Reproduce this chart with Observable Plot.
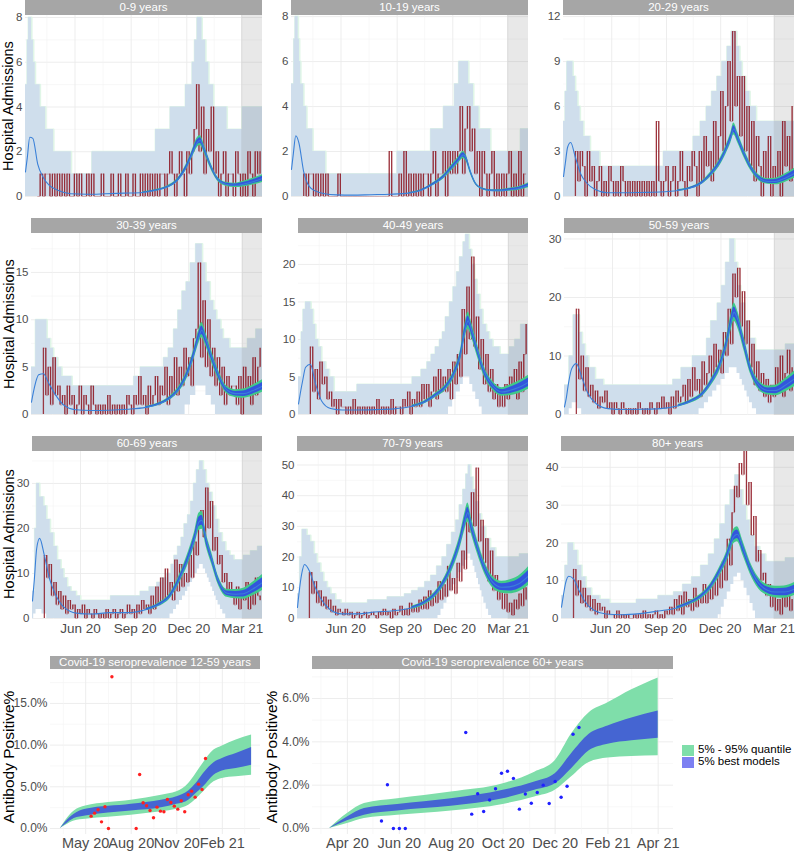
<!DOCTYPE html>
<html><head><meta charset="utf-8">
<script src="https://cdn.jsdelivr.net/npm/d3@7"></script>
<script src="https://cdn.jsdelivr.net/npm/@observablehq/plot@0.6"></script>
<style>
body{margin:0;background:#fff;overflow:hidden;font-family:"Liberation Sans",Arial,sans-serif}
#root{position:relative;width:796px;height:852px}
.strip{position:absolute;background:#a6a6a6;color:#fff;font-size:11.5px;text-align:center;white-space:nowrap;overflow:hidden}
.ttl{position:absolute;white-space:nowrap;color:#000;transform:translate(-50%,-50%) rotate(-90deg)}
.pl{position:absolute}
.leg{position:absolute;font-size:11.5px;color:#000;white-space:nowrap}
</style></head>
<body><div id="root"></div>
<script>
// ---------- data ----------
const KNOTS = ["2020-03-12","2020-03-15","2020-03-19","2020-03-24","2020-04-01","2020-04-10","2020-04-20","2020-05-05","2020-05-25","2020-06-20","2020-07-20","2020-08-20","2020-09-20","2020-10-10","2020-10-30","2020-11-15","2020-11-30","2020-12-10","2020-12-18","2020-12-23","2020-12-30","2021-01-08","2021-01-20","2021-02-03","2021-02-18","2021-03-03","2021-03-18","2021-04-04"];
const BAND_FROM = 12;
const greenRel = [0.15,0.13,0.12,0.11,0.1,0.09,0.09,0.09,0.09,0.1,0.12,0.16,0.19,0.22,0.23,0.22];
const blueRel  = [0.08,0.07,0.065,0.06,0.055,0.05,0.05,0.05,0.05,0.055,0.07,0.09,0.11,0.13,0.14,0.13];
const timeDomain = ["2020-03-12","2021-04-04"];
const forecastPeriod = ["2021-03-01","2021-04-04"];
const obsStart = "2020-04-01", obsStepDays = 4;
const xTicksMajor = ["2020-06-01","2020-09-01","2020-12-01","2021-03-01"];
const xTicksMinor = ["2020-04-16","2020-07-17","2020-10-16","2021-01-15"];

const med_0_9 = [1.1,1.75,2.65,2.6,1.45,0.85,0.5,0.27,0.12,0.1,0.12,0.15,0.18,0.27,0.42,0.7,1.3,1.9,2.4,2.5,2.1,1.45,0.8,0.55,0.5,0.55,0.65,0.8];
const med_10_19 = [1.2,1.9,2.7,2.4,1.1,0.45,0.25,0.12,0.07,0.06,0.08,0.1,0.15,0.27,0.55,0.85,1.3,1.6,1.85,1.7,1.1,0.55,0.33,0.26,0.26,0.3,0.35,0.5];
const med_20_29 = [1.33,2.2,3.3,3.6,2.6,1.5,0.9,0.45,0.25,0.25,0.27,0.3,0.4,0.55,0.9,1.5,2.3,3.1,3.9,4.5,3.9,3.0,2.0,1.25,1.0,1.0,1.2,1.55];
const med_30_39 = [1.3,2.3,3.4,4.2,4.3,3.3,2.2,1.0,0.5,0.42,0.45,0.55,0.75,1.05,1.7,2.7,4.5,6.4,8.2,8.9,7.9,6.2,4.2,2.6,2.2,2.2,2.5,3.0];
const med_40_49 = [1.4,2.8,4.5,6.3,6.7,4.0,1.8,0.8,0.6,0.6,0.65,0.75,1.1,1.6,2.6,3.6,5.5,7.8,11.2,12.5,11,8.5,5.6,3.8,3.0,3.2,3.6,4.3];
const med_50_59 = [1.3,2.8,5.5,7.8,8.7,6.4,3.7,1.8,1.0,0.85,0.9,1.0,1.5,2.2,3.4,5.6,8.6,12,15.8,17.5,16,12.5,7.8,5,4.1,4.1,4.9,6.1];
const med_60_69 = [3.9,8.5,15.5,17.8,14,8.7,5.3,2.4,1.2,1.0,1.3,1.3,2.0,3.0,5.0,8.8,13.5,17.5,21.5,21.8,17.5,13.5,8.3,5.6,5.4,5.5,6.5,8.0];
const med_70_79 = [3.6,9,14.5,17.6,15.5,10.5,6.5,3.0,1.5,1.5,2.1,2.5,3.5,5.0,8.0,12.5,19,25,31.5,34.5,29.5,23.5,16.7,11.8,10.2,10.3,11.2,13.8];
const med_80 = [3,6,9.5,11.2,10.5,7.5,4.5,2.2,1.2,1.0,1.3,2.0,2.8,4.0,5.8,8.3,12.3,15.5,19,21.5,22.3,18.7,13.5,9.4,7.5,7.0,7.0,7.8];

const up_0_9 = [["2020-03-12",5],["2020-03-15",7],["2020-03-17",8],["2020-03-22",7],["2020-03-25",6],["2020-03-28",5],["2020-04-05",4],["2020-04-14",3],["2020-04-27",2],["2020-05-26",1],["2020-06-29",2],["2020-10-11",3],["2020-11-04",4],["2020-11-29",5],["2020-12-10",6],["2020-12-14",7],["2020-12-18",8],["2020-12-26",7],["2021-01-01",6],["2021-01-06",5],["2021-01-14",4],["2021-02-05",3],["2021-03-02",4]];
const lo_0_9 = [["2020-03-12",0]];
const up_10_19 = [["2020-03-12",5],["2020-03-16",7],["2020-03-18",8],["2020-03-23",7],["2020-03-25",6],["2020-03-27",5],["2020-04-01",4],["2020-04-06",3],["2020-04-16",2],["2020-05-07",1],["2020-09-01",2],["2020-10-26",3],["2020-11-16",4],["2020-12-04",5],["2020-12-11",6],["2020-12-27",5],["2021-01-04",4],["2021-01-13",3],["2021-02-01",2],["2021-03-22",3]];
const lo_10_19 = [["2020-03-12",0]];
const up_20_29 = [["2020-03-12",5],["2020-03-15",7],["2020-03-18",9],["2020-03-28",8],["2020-04-01",7],["2020-04-05",6],["2020-04-09",5],["2020-04-15",4],["2020-04-26",3],["2020-05-12",2],["2020-08-27",3],["2020-10-16",4],["2020-10-28",5],["2020-11-07",6],["2020-11-16",7],["2020-11-25",8],["2020-12-03",9],["2020-12-12",10],["2020-12-19",11],["2020-12-28",10],["2021-01-02",9],["2021-01-06",8],["2021-01-12",7],["2021-01-19",6],["2021-01-30",5]];
const lo_20_29 = [["2020-03-12",0]];
const up_30_39 = [["2020-03-12",5],["2020-03-19",10],["2020-04-07",8],["2020-04-13",7],["2020-04-18",6],["2020-04-25",5],["2020-05-02",4],["2020-05-19",3],["2020-08-31",4],["2020-09-11",5],["2020-10-20",6],["2020-10-28",7],["2020-11-06",9],["2020-11-13",11],["2020-11-20",13],["2020-11-27",14],["2020-12-04",16],["2020-12-13",18],["2020-12-24",16],["2020-12-30",14],["2021-01-06",12],["2021-01-12",11],["2021-01-17",10],["2021-01-24",9],["2021-01-28",8],["2021-02-08",7],["2021-03-10",8],["2021-03-24",9]];
const lo_30_39 = [["2020-03-12",0],["2020-11-25",1],["2020-12-04",2],["2020-12-13",3],["2020-12-30",2],["2021-01-08",1],["2021-01-15",0]];
const up_40_49 = [["2020-03-12",5],["2020-03-17",11],["2020-03-20",14],["2020-03-24",15],["2020-04-02",14],["2020-04-06",12],["2020-04-10",10],["2020-04-15",9],["2020-04-20",7],["2020-04-27",6],["2020-05-03",5],["2020-05-11",3],["2020-06-19",4],["2020-09-20",5],["2020-10-05",6],["2020-10-15",7],["2020-10-22",8],["2020-10-29",9],["2020-11-05",10],["2020-11-10",11],["2020-11-15",13],["2020-11-22",15],["2020-11-28",17],["2020-12-04",19],["2020-12-09",21],["2020-12-15",23],["2020-12-19",24],["2020-12-25",22],["2020-12-29",20],["2021-01-03",18],["2021-01-07",16],["2021-01-12",14],["2021-01-17",12],["2021-01-23",11],["2021-01-28",10],["2021-02-03",9],["2021-02-15",8],["2021-03-03",9],["2021-03-12",10],["2021-03-22",12]];
const lo_40_49 = [["2020-03-12",0],["2020-11-20",1],["2020-11-27",2],["2020-12-03",3],["2020-12-10",4],["2020-12-15",5],["2020-12-26",4],["2020-12-31",3],["2021-01-05",2],["2021-01-11",1],["2021-01-16",0]];
const up_50_59 = [["2020-03-12",5],["2020-03-20",10],["2020-03-27",17],["2020-04-06",14],["2020-04-11",12],["2020-04-16",10],["2020-04-22",8],["2020-05-03",6],["2020-05-17",5],["2020-09-11",6],["2020-09-25",8],["2020-10-14",10],["2020-11-07",13],["2020-11-14",16],["2020-11-25",19],["2020-12-02",22],["2020-12-09",26],["2020-12-16",30],["2020-12-24",26],["2020-12-29",22],["2021-01-03",19],["2021-01-10",16],["2021-01-18",13],["2021-01-28",11],["2021-03-20",12]];
const lo_50_59 = [["2020-03-12",0],["2020-03-20",1],["2020-03-25",2],["2020-04-03",1],["2020-04-10",0],["2020-10-25",1],["2020-11-03",2],["2020-11-10",3],["2020-11-17",4],["2020-11-24",5],["2020-12-01",6],["2020-12-08",7],["2020-12-15",8],["2020-12-28",7],["2021-01-02",6],["2021-01-06",5],["2021-01-10",4],["2021-01-14",3],["2021-01-18",2],["2021-01-23",1],["2021-01-30",0]];
const up_60_69 = [["2020-03-12",6],["2020-03-16",20],["2020-03-19",30],["2020-03-24",27],["2020-03-31",25],["2020-04-05",22],["2020-04-11",19],["2020-04-17",16],["2020-04-23",13],["2020-04-29",11],["2020-05-04",9],["2020-05-10",7],["2020-05-16",6],["2020-05-25",5],["2020-06-01",4],["2020-07-22",5],["2020-09-10",6],["2020-09-25",7],["2020-10-08",8],["2020-10-16",9],["2020-10-25",10],["2020-11-01",12],["2020-11-06",14],["2020-11-12",16],["2020-11-18",18],["2020-11-23",21],["2020-11-29",23],["2020-12-04",26],["2020-12-09",30],["2020-12-14",33],["2020-12-19",35],["2020-12-25",33],["2020-12-30",30],["2021-01-04",28],["2021-01-09",25],["2021-01-15",22],["2021-01-20",19],["2021-01-26",17],["2021-02-01",15],["2021-02-08",14],["2021-02-15",13],["2021-03-03",14],["2021-03-15",15],["2021-03-27",16]];
const lo_60_69 = [["2020-03-12",0],["2020-03-14",1],["2020-03-18",2],["2020-03-28",1],["2020-04-05",0],["2020-10-30",1],["2020-11-05",2],["2020-11-10",3],["2020-11-15",4],["2020-11-20",5],["2020-11-25",6],["2020-11-29",7],["2020-12-03",8],["2020-12-07",9],["2020-12-11",10],["2020-12-15",11],["2020-12-19",12],["2020-12-25",11],["2020-12-29",10],["2021-01-01",9],["2021-01-04",8],["2021-01-07",7],["2021-01-10",6],["2021-01-13",5],["2021-01-16",4],["2021-01-19",3],["2021-01-23",2],["2021-01-27",1],["2021-02-01",0]];
const up_70_79 = [["2020-03-12",8],["2020-03-16",20],["2020-03-20",29],["2020-03-28",27],["2020-04-03",25],["2020-04-09",21],["2020-04-14",18],["2020-04-20",15],["2020-04-25",12],["2020-05-01",10],["2020-05-07",8],["2020-05-15",6],["2020-05-24",5],["2020-07-08",6],["2020-08-10",7],["2020-09-08",8],["2020-09-20",9],["2020-10-01",10],["2020-10-12",12],["2020-10-22",14],["2020-11-01",17],["2020-11-10",20],["2020-11-18",24],["2020-11-26",28],["2020-12-03",32],["2020-12-09",37],["2020-12-15",42],["2020-12-20",47],["2020-12-24",50],["2020-12-28",46],["2021-01-01",42],["2021-01-05",38],["2021-01-10",34],["2021-01-15",30],["2021-01-22",26],["2021-01-30",23],["2021-02-08",20],["2021-03-20",21]];
const lo_70_79 = [["2020-03-12",0],["2020-11-03",1],["2020-11-08",3],["2020-11-13",5],["2020-11-18",7],["2020-11-23",9],["2020-11-28",11],["2020-12-03",13],["2020-12-08",15],["2020-12-13",17],["2020-12-18",19],["2020-12-23",21],["2020-12-28",19],["2021-01-01",17],["2021-01-04",15],["2021-01-07",13],["2021-01-10",11],["2021-01-13",9],["2021-01-16",7],["2021-01-19",5],["2021-01-23",3],["2021-01-27",1],["2021-02-01",0]];
const up_80 = [["2020-03-12",6],["2020-03-18",14],["2020-03-23",20],["2020-04-01",18],["2020-04-08",14],["2020-04-15",11],["2020-04-22",8],["2020-05-01",6],["2020-05-15",5],["2020-06-01",4],["2020-07-15",5],["2020-08-20",6],["2020-09-15",7],["2020-09-30",9],["2020-10-15",11],["2020-10-30",14],["2020-11-12",17],["2020-11-22",21],["2020-12-01",25],["2020-12-10",30],["2020-12-18",34],["2020-12-26",38],["2021-01-02",34],["2021-01-08",30],["2021-01-14",26],["2021-01-20",22],["2021-01-28",19],["2021-02-05",17],["2021-02-15",15],["2021-03-20",16]];
const lo_80 = [["2020-03-12",0],["2020-11-28",1],["2020-12-03",3],["2020-12-08",5],["2020-12-13",7],["2020-12-19",9],["2020-12-24",11],["2020-12-30",12],["2021-01-05",10],["2021-01-10",8],["2021-01-15",6],["2021-01-20",4],["2021-01-25",2],["2021-01-29",0]];

const obs_0_9 = [0,1,0,1,1,0,1,0, 1,0,1,0,1,0,0,1, 0,1,0,0,1,0,1,0, 0,0,1,0,0,0,1,0, 0,1,0,0,1,0,0,1, 0,0,1,0,1,0,1,0, 1,0,1,1,0,1,2,1, 0,1,2,1,0,2,1,2, 3,5,2,4,1,3,2,4, 1,2,0,1,2,0,1,1, 0,2,1,0,1,0,2,1, 0,2,1,2];
const obs_10_19 = [1,0,1,1,0,1,0,1, 0,1,0,0,0,0,1,0, 0,0,0,0,0,0,0,0, 0,0,0,0,0,0,0,0, 0,0,0,2,0,0,0,1, 0,2,0,1,0,1,0,1, 0,1,1,0,1,2,0,1, 1,2,0,2,1,2,1,2, 4,1,3,4,2,3,1,2, 0,2,1,0,1,2,0,1, 0,1,0,1,2,0,1,0, 2,0,1,1];
const obs_20_29 = [3,1,3,2,0,3,1,2, 0,1,2,0,1,0,2,1, 0,1,0,2,1,0,1,0, 1,0,1,0,1,0,1,0, 1,0,5,1,0,1,2,0, 1,2,0,1,3,1,0,2, 1,3,2,0,3,1,4,2, 3,1,5,2,4,7,3,6, 9,5,11,6,8,4,8,3, 6,2,5,1,4,2,0,3, 1,4,0,2,1,3,0,5, 2,4,1,6];
const obs_30_39 = [7,2,5,1,6,2,3,1, 2,0,3,1,2,0,1,3, 0,2,1,0,3,1,0,1, 0,1,0,2,0,1,0,1, 0,1,0,2,1,0,2,1, 4,1,2,0,3,1,2,4, 1,3,2,5,1,4,2,6, 2,5,3,7,4,6,3,8, 9,16,6,12,5,10,4,7, 3,6,2,5,1,4,2,3, 3,1,4,0,5,2,4,1, 6,2,5,7];
const obs_40_49 = [9,3,6,2,7,4,5,2, 3,1,2,0,2,1,1,0, 1,0,2,0,1,0,1,0, 1,0,1,0,2,0,1,0, 1,0,2,0,1,1,0,2, 1,3,0,2,1,3,1,4, 2,4,1,3,5,2,6,3, 5,3,6,2,7,4,8,5, 14,8,17,10,21,9,13,6, 10,4,8,3,6,2,4,1, 3,1,4,2,5,3,6,2, 7,3,8,12];
const obs_50_59 = [18,6,10,4,8,3,5,2, 4,1,3,2,4,1,2,0, 2,1,0,2,1,0,1,0, 1,0,2,1,0,1,0,2, 1,0,2,1,3,1,2,0, 3,1,4,2,3,5,2,6, 3,8,4,6,3,9,5,7, 10,6,12,8,11,7,14,10, 18,12,24,20,25,15,21,12, 16,8,12,5,9,4,7,3, 6,2,5,3,8,4,10,3, 7,11,4,8];
const obs_60_69 = [14,9,12,5,8,3,6,2, 5,1,4,2,3,0,2,1, 3,0,2,1,0,2,1,0, 1,0,2,0,1,2,0,1, 2,0,1,3,1,2,0,3, 1,4,2,3,1,5,2,7, 3,9,4,11,5,8,4,13, 6,12,7,10,8,14,9,17, 14,21,24,18,29,20,26,15, 18,12,14,8,10,6,8,5, 3,7,2,6,4,8,2,7, 3,9,5,4];
const obs_70_79 = [15,8,12,5,9,4,7,3, 6,2,4,1,3,2,1,3, 1,2,0,1,2,0,1,2, 0,1,2,1,0,2,1,3, 1,2,0,3,1,2,4,1, 3,1,5,2,4,2,6,3, 7,3,9,4,8,5,12,6, 11,7,17,9,13,8,18,12, 22,16,33,28,41,30,49,25, 32,18,26,12,22,9,14,6, 10,3,8,2,5,1,6,3, 8,4,10,6];
const obs_80 = [13,6,10,4,8,3,6,2, 5,1,4,2,3,0,2,1, 1,0,2,0,1,0,1,0, 0,1,0,1,0,2,0,1, 0,1,2,0,1,0,2,1, 3,1,5,2,6,1,7,3, 5,2,8,3,6,4,9,4, 8,5,10,6,12,8,15,10, 21,14,28,35,32,41,38,45, 30,36,22,27,15,18,10,12, 6,9,3,7,2,5,1,6, 3,8,2,5];

const yTicks_0_9 = [0,2,4,6,8], yTicks_10_19 = [0,2,4,6,8], yTicks_20_29 = [0,3,6,9,12];
const yTicks_30_39 = [0,5,10,15], yTicks_40_49 = [0,5,10,15,20], yTicks_50_59 = [0,10,20,30];
const yTicks_60_69 = [0,10,20,30], yTicks_70_79 = [0,10,20,30,40,50], yTicks_80 = [0,10,20,30,40];

// seroprevalence
const sero1Dates = ["2020-05-12","2020-05-19","2020-05-26","2020-06-02","2020-06-09","2020-06-16","2020-06-23","2020-08-11","2020-08-18","2020-08-25","2020-09-01","2020-09-08","2020-09-15","2020-09-22","2020-09-29","2020-10-06","2020-10-13","2020-10-20","2020-10-27","2020-11-03","2020-11-10","2020-11-17","2020-11-24","2020-12-01","2020-12-08","2020-12-15","2020-12-22","2020-12-29"];
const sero1Values = [1.48,1.84,2.24,0.80,2.6,0,18.2,0,6.48,3.08,2.72,2.16,1.28,2.56,2.08,2.0,3.48,3.12,2.68,2.32,3.32,2.0,4.04,4.48,3.76,5.32,4.68,8.4];
const sero2Dates = ["2020-05-11","2020-05-18","2020-05-25","2020-06-01","2020-06-08","2020-08-18","2020-08-25","2020-09-01","2020-09-08","2020-09-15","2020-09-22","2020-09-29","2020-10-06","2020-10-13","2020-10-20","2020-10-27","2020-11-03","2020-11-10","2020-11-17","2020-11-24","2020-12-01","2020-12-08","2020-12-15","2020-12-22","2020-12-29"];
const sero2Values = [0.34,2.02,0,0,0,4.43,0.66,1.60,0.78,1.31,1.83,2.55,2.64,2.31,0.89,1.59,1.16,1.66,2.0,1.15,2.17,1.44,1.95,4.35,4.66];

const sero1BandDates = ["2020-03-11","2020-03-22","2020-04-08","2020-05-01","2020-08-01","2020-10-01","2020-11-01","2020-11-25","2020-12-10","2020-12-25","2021-01-15","2021-02-01","2021-03-01","2021-04-01"];
const sero1GreenLo = [0,0.4,0.9,1.1,1.6,2.0,2.3,2.8,3.5,4.4,5.6,6.0,6.2,6.4];
const sero1BlueLo  = [0,0.5,1.2,1.5,2.1,2.5,2.9,3.4,4.2,5.0,6.4,6.9,7.2,7.6];
const sero1BlueHi  = [0,0.8,1.7,2.3,2.9,3.4,3.8,4.5,5.4,6.6,7.9,8.4,9.0,9.7];
const sero1GreenHi = [0,1.0,2.1,2.7,3.4,4.0,4.4,5.4,6.6,7.9,9.4,9.9,10.6,11.2];

const sero2BandDates = ["2020-03-11","2020-04-01","2020-04-21","2020-05-30","2020-08-01","2020-10-01","2020-11-07","2020-12-01","2020-12-20","2021-01-10","2021-02-01","2021-03-01","2021-04-01"];
const sero2GreenLo = [0,0.23,0.46,0.61,0.81,1.11,1.45,1.76,2.37,3.05,3.25,3.32,3.36];
const sero2BlueLo  = [0,0.35,0.61,0.81,1.02,1.37,1.76,2.06,2.75,3.59,3.89,4.05,4.17];
const sero2BlueHi  = [0,0.53,0.92,1.11,1.37,1.76,2.14,2.52,3.44,4.35,4.73,5.1,5.42];
const sero2GreenHi = [0,0.69,1.15,1.37,1.68,2.06,2.6,3.13,4.35,5.34,5.8,6.4,6.95];

const seroDomain = ["2020-02-20","2021-04-19"];
const sero1XTicks = ["2020-05-01","2020-08-01","2020-11-01","2021-02-01"];
const sero1XMinor = ["2020-03-17","2020-06-16","2020-09-16","2020-12-17","2021-03-18"];
const sero2XTicks = ["2020-04-01","2020-06-01","2020-08-01","2020-10-01","2020-12-01","2021-02-01","2021-04-01"];
const sero2XMinor = ["2020-03-01","2020-05-01","2020-07-01","2020-09-01","2020-11-01","2021-01-01","2021-03-01"];
const sero1YTicks = [0,5,10,15], sero2YTicks = [0,2,4,6];
const legendLabels = ["5% - 95% quantile","5% best models"];

// ---------- layout / drawing ----------
const root = document.getElementById("root");
const D = s => new Date(s + "T00:00:00Z");
const FONT = "Liberation Sans, Arial, sans-serif";
const C = {lightBand:"#cfdeec", fringe:"#e0f6e7", obs:"#8b0f1a", green:"#3fc98a", blue:"#3355dd", line:"#3a80d8", grid:"#ebebeb", minor:"#f4f4f4"};

function stepRows(up, lo, end) {
  const dates = Array.from(new Set([...up.map(d => d[0]), ...lo.map(d => d[0])])).sort();
  const at = (arr, dt) => { let v = arr[0][1]; for (const [d, x] of arr) if (d <= dt) v = x; return v; };
  const rows = dates.map(dt => ({date: D(dt), hi: at(up, dt), lo: at(lo, dt)}));
  const last = rows[rows.length - 1];
  rows.push({date: end, hi: last.hi, lo: last.lo});
  return rows;
}
function minorOf(t, hi) {
  const out = [];
  const step = t[1] - t[0];
  for (let i = 0; i < t.length; i++) { const m = t[i] + step / 2; if (m < hi) out.push(m); }
  return out;
}
function addDiv(cls, css, text) {
  const d = document.createElement("div");
  d.className = cls; Object.assign(d.style, css); if (text != null) d.textContent = text;
  root.appendChild(d); return d;
}

const panels = [
  {name:"0-9 years",   med:med_0_9,   up:up_0_9,   lo:lo_0_9,   obs:obs_0_9,   ticks:yTicks_0_9,   L:25,  R:262, T:15,  B:197, ydom:[-0.045,8.09], bottom:false},
  {name:"10-19 years", med:med_10_19, up:up_10_19, lo:lo_10_19, obs:obs_10_19, ticks:yTicks_10_19, L:291, R:528, T:15,  B:197, ydom:[-0.045,8.05], bottom:false},
  {name:"20-29 years", med:med_20_29, up:up_20_29, lo:lo_20_29, obs:obs_20_29, ticks:yTicks_20_29, L:563, R:794, T:15,  B:197, ydom:[-0.067,12.07], bottom:false},
  {name:"30-39 years", med:med_30_39, up:up_30_39, lo:lo_30_39, obs:obs_30_39, ticks:yTicks_30_39, L:31,  R:262, T:233, B:415, ydom:[-0.105,19.11], bottom:false},
  {name:"40-49 years", med:med_40_49, up:up_40_49, lo:lo_40_49, obs:obs_40_49, ticks:yTicks_40_49, L:298, R:528, T:233, B:415, ydom:[-0.13,24.13], bottom:false},
  {name:"50-59 years", med:med_50_59, up:up_50_59, lo:lo_50_59, obs:obs_50_59, ticks:yTicks_50_59, L:564, R:794, T:233, B:415, ydom:[-0.17,30.94], bottom:false},
  {name:"60-69 years", med:med_60_69, up:up_60_69, lo:lo_60_69, obs:obs_60_69, ticks:yTicks_60_69, L:32,  R:262, T:451, B:619, ydom:[-0.22,37.1], bottom:true},
  {name:"70-79 years", med:med_70_79, up:up_70_79, lo:lo_70_79, obs:obs_70_79, ticks:yTicks_70_79, L:297, R:528, T:451, B:619, ydom:[-0.33,54.4], bottom:true},
  {name:"80+ years",   med:med_80,    up:up_80,    lo:lo_80,    obs:obs_80,    ticks:yTicks_80,    L:561, R:794, T:451, B:619, ydom:[-0.26,44.2], bottom:true}
];

const xDom = timeDomain.map(D);
for (const p of panels) {
  const ML = 30, MR = 1, MB = p.bottom ? 26 : 0;
  const med = KNOTS.map((d, i) => ({date: D(d), v: p.med[i]}));
  const band = KNOTS.slice(BAND_FROM).map((d, i) => {
    const v = p.med[BAND_FROM + i];
    return {date: D(d), gl: v * (1 - greenRel[i]), gh: v * (1 + greenRel[i]), bl: v * (1 - blueRel[i]), bh: v * (1 + blueRel[i])};
  });
  const obs = p.obs.map((v, i) => ({date: d3.utcDay.offset(D(obsStart), obsStepDays * i), v, prev: i ? p.obs[i - 1] : 0}));
  const steps = stepRows(p.up, p.lo, xDom[1]);
  const minorY = minorOf(p.ticks, p.ydom[1]);
  const marks = [
    Plot.ruleY(minorY, {stroke: C.minor, strokeWidth: 0.6}),
    Plot.ruleY(p.ticks, {stroke: C.grid, strokeWidth: 0.9}),
    Plot.ruleX(xTicksMinor.map(D), {stroke: C.minor, strokeWidth: 0.6}),
    Plot.ruleX(xTicksMajor.map(D), {stroke: C.grid, strokeWidth: 0.9}),
    Plot.lineY(steps, {x: "date", y: "hi", curve: "step-after", stroke: C.fringe, strokeWidth: 2, clip: true}),
    Plot.areaY(steps, {x: "date", y1: "lo", y2: "hi", curve: "step-after", fill: C.lightBand, clip: true}),
    Plot.rect([{a: D(forecastPeriod[0]), b: D(forecastPeriod[1])}], {x1: "a", x2: "b", fill: "#8c8c8c", fillOpacity: 0.2}),
    Plot.lineY(obs, {x: "date", y: "v", curve: "step-after", stroke: C.obs, strokeOpacity: 0.28, strokeWidth: 1, clip: true}),
    Plot.ruleX(obs, {x: "date", y1: "prev", y2: "v", stroke: C.obs, strokeOpacity: 0.8, strokeWidth: 1.3, clip: true}),
    Plot.areaY(band, {x: "date", y1: "gl", y2: "gh", curve: "monotone-x", fill: C.green, clip: true}),
    Plot.areaY(band, {x: "date", y1: "bl", y2: "bh", curve: "monotone-x", fill: C.blue, clip: true}),
    Plot.lineY(med, {x: "date", y: "v", curve: "monotone-x", stroke: C.line, strokeWidth: 1.1, clip: true}),
    Plot.axisY({ticks: p.ticks, tickSize: 0, tickPadding: 3, fontSize: 11.5, label: null})
  ];
  if (p.bottom) marks.push(Plot.axisX({ticks: xTicksMajor.map(D), tickSize: 0, tickPadding: 4, fontSize: 13.5, label: null, tickFormat: d3.utcFormat("%b %y")}));
  const chart = Plot.plot({
    width: p.R - p.L + ML + MR, height: p.B - p.T + MB,
    marginLeft: ML, marginRight: MR, marginTop: 0, marginBottom: MB,
    x: {type: "utc", domain: xDom, axis: null},
    y: {domain: p.ydom, axis: null},
    style: {fontFamily: FONT, color: "#4d4d4d", background: "transparent", overflow: "visible"},
    marks
  });
  const holder = addDiv("pl", {left: (p.L - ML) + "px", top: p.T + "px"});
  holder.appendChild(chart);
  addDiv("strip", {left: p.L + "px", top: (p.T - 15) + "px", width: (p.R - p.L) + "px", height: "15px", lineHeight: "15px"}, p.name);
}
for (const [cy, cx] of [[106, 8], [324, 9], [534, 9]]) {
  addDiv("ttl", {left: cx + "px", top: cy + "px", fontSize: "14.5px"}, "Hospital Admissions");
}

// sero panels
const sDom = seroDomain.map(D);
const pct = d => d.toFixed(1) + "%";
function seroPanel(o) {
  const ML = 44, MR = 1, MB = 20;
  const band = o.bandDates.map((d, i) => ({date: D(d), gl: o.gl[i], bl: o.bl[i], bh: o.bh[i], gh: o.gh[i]}));
  const pts = o.dates.map((d, i) => ({date: D(d), v: o.values[i]}));
  const minorY = minorOf(o.yTicks, o.ydom[1]);
  const chart = Plot.plot({
    width: o.R - o.L + ML + MR, height: o.B - o.T + MB,
    marginLeft: ML, marginRight: MR, marginTop: 0, marginBottom: MB,
    x: {type: "utc", domain: sDom, axis: null},
    y: {domain: o.ydom, axis: null},
    style: {fontFamily: FONT, color: "#4d4d4d", background: "transparent", overflow: "visible"},
    marks: [
      Plot.ruleY(minorY, {stroke: C.minor, strokeWidth: 0.6}),
      Plot.ruleY(o.yTicks, {stroke: C.grid, strokeWidth: 0.9}),
      Plot.ruleX(o.xMinor.map(D), {stroke: C.minor, strokeWidth: 0.6}),
      Plot.ruleX(o.xTicks.map(D), {stroke: C.grid, strokeWidth: 0.9}),
      Plot.areaY(band, {x: "date", y1: "gl", y2: "gh", curve: "monotone-x", fill: "#7fdeaa"}),
      Plot.areaY(band, {x: "date", y1: "bl", y2: "bh", curve: "monotone-x", fill: "#4565d2"}),
      Plot.dot(pts, {x: "date", y: "v", r: 1.7, fill: o.dot, stroke: null}),
      Plot.axisY({ticks: o.yTicks, tickSize: 0, tickPadding: 3, fontSize: 12, label: null, tickFormat: pct}),
      Plot.axisX({ticks: o.xTicks.map(D), tickSize: 0, tickPadding: 3, fontSize: 14.5, label: null, tickFormat: d3.utcFormat("%b %y")})
    ]
  });
  const holder = addDiv("pl", {left: (o.L - ML) + "px", top: o.T + "px"});
  holder.appendChild(chart);
  addDiv("strip", {left: o.L + "px", top: (o.T - 13) + "px", width: (o.R - o.L) + "px", height: "13px", lineHeight: "13px"}, o.name);
}
seroPanel({name: "Covid-19 seroprevalence 12-59 years", L: 50, R: 260, T: 669, B: 834, ydom: [-0.72, 19.07], yTicks: sero1YTicks,
  xTicks: sero1XTicks, xMinor: sero1XMinor, bandDates: sero1BandDates, gl: sero1GreenLo, bl: sero1BlueLo, bh: sero1BlueHi, gh: sero1GreenHi,
  dates: sero1Dates, values: sero1Values, dot: "#ff2020"});
seroPanel({name: "Covid-19 seroprevalence 60+ years", L: 312, R: 673, T: 669, B: 834, ydom: [-0.28, 7.34], yTicks: sero2YTicks,
  xTicks: sero2XTicks, xMinor: sero2XMinor, bandDates: sero2BandDates, gl: sero2GreenLo, bl: sero2BlueLo, bh: sero2BlueHi, gh: sero2GreenHi,
  dates: sero2Dates, values: sero2Values, dot: "#1f1fff"});
addDiv("ttl", {left: "9px", top: "757px", fontSize: "15.5px"}, "Antibody Positive%");
addDiv("ttl", {left: "272px", top: "757px", fontSize: "15.5px"}, "Antibody Positive%");

// legend
addDiv("", {position: "absolute", left: "682px", top: "745px", width: "12px", height: "11px", background: "#7fdeaa"});
addDiv("", {position: "absolute", left: "682px", top: "757px", width: "12px", height: "11px", background: "#7d80f2"});
addDiv("leg", {left: "698px", top: "743px"}, legendLabels[0]);
addDiv("leg", {left: "698px", top: "755px"}, legendLabels[1]);
</script>
</body></html>
